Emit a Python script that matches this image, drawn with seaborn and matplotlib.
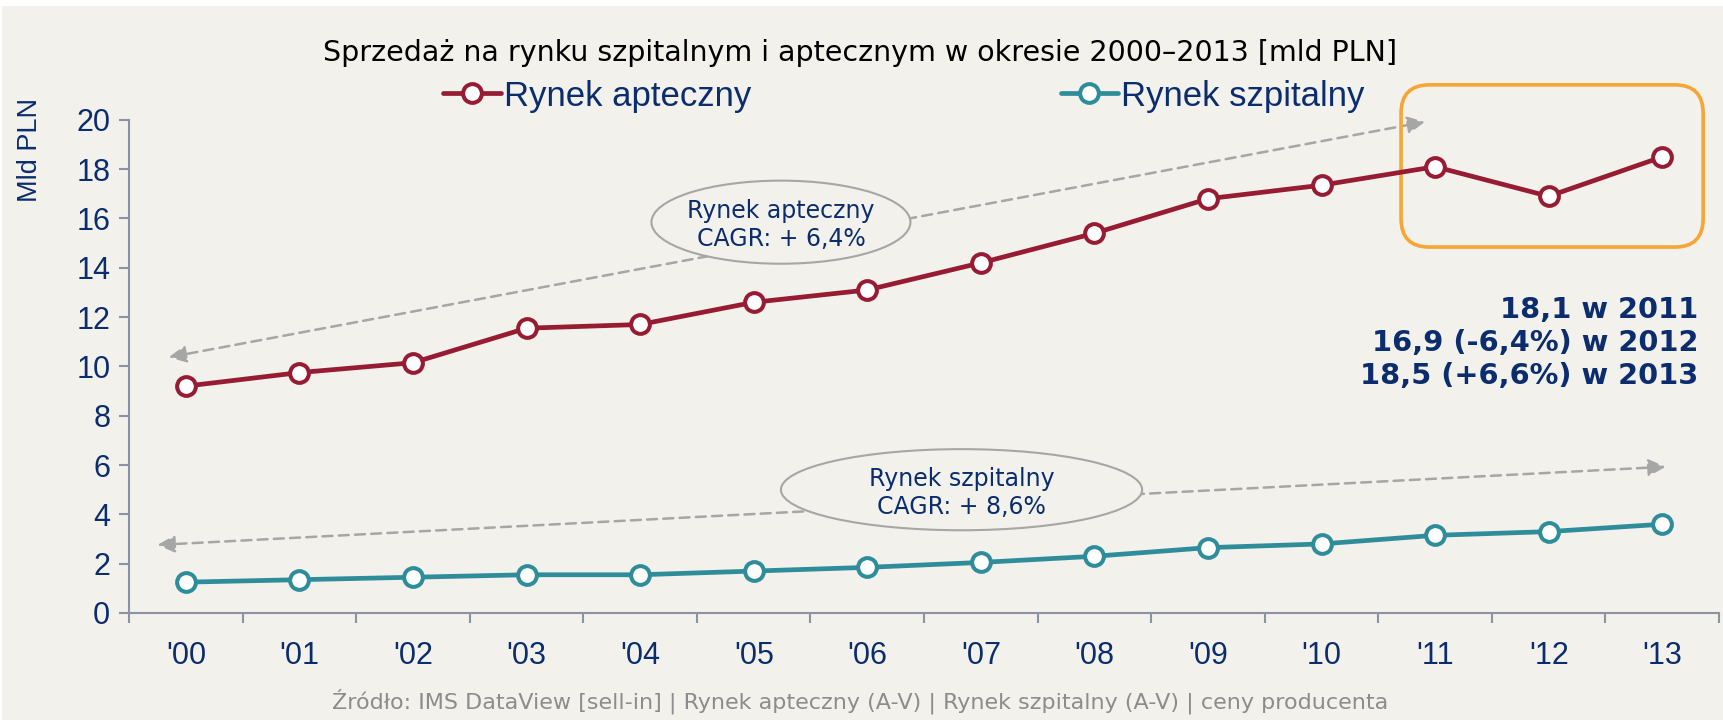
import matplotlib
matplotlib.use("Agg")
import matplotlib.pyplot as plt
import seaborn as sns
import pandas as pd
from matplotlib.patches import Ellipse, FancyBboxPatch, Rectangle

# dane [mld PLN]
lata = ["'00", "'01", "'02", "'03", "'04", "'05", "'06",
        "'07", "'08", "'09", "'10", "'11", "'12", "'13"]
rynek_apteczny = [9.2, 9.75, 10.15, 11.55, 11.7, 12.6, 13.1,
                  14.2, 15.4, 16.8, 17.35, 18.1, 16.9, 18.5]
rynek_szpitalny = [1.25, 1.35, 1.45, 1.55, 1.55, 1.7, 1.85,
                   2.05, 2.3, 2.65, 2.8, 3.15, 3.3, 3.6]
serie = ["Rynek apteczny", "Rynek szpitalny"]
cagr = ["Rynek apteczny\nCAGR: + 6,4%", "Rynek szpitalny\nCAGR: + 8,6%"]
komentarz = "18,1 w 2011\n16,9 (-6,4%) w 2012\n18,5 (+6,6%) w 2013"
tytul = "Sprzedaż na rynku szpitalnym i aptecznym w okresie 2000–2013 [mld PLN]"
zrodlo = ("Źródło: IMS DataView [sell-in] | Rynek apteczny (A-V) | "
          "Rynek szpitalny (A-V) | ceny producenta")

BG = "#F2F1EB"
NAVY = "#0B2D6E"
AXIS = "#8C91A3"
GRAY = "#A6A6A6"
kolory = {"Rynek apteczny": "#971C33", "Rynek szpitalny": "#2F8D9B"}

df = pd.DataFrame({
    "rok": lata * 2,
    "wartosc": rynek_apteczny + rynek_szpitalny,
    "rynek": [serie[0]] * len(lata) + [serie[1]] * len(lata),
})

sns.set_theme(style="ticks")
plt.rcParams["font.family"] = ["Liberation Sans", "DejaVu Sans"]

fig = plt.figure(figsize=(17.23, 7.22), dpi=100, facecolor="white")
fig.add_artist(Rectangle((2 / 1723, 2 / 722), 1, 1 - 8 / 722,
                         transform=fig.transFigure, facecolor=BG,
                         edgecolor="none", zorder=-10))
ax = fig.add_axes([0.0749, 0.151, 0.9228, 0.683])
ax.set_facecolor(BG)

for name in serie:
    col = kolory[name]
    sns.lineplot(data=df[df["rynek"] == name], x="rok", y="wartosc",
                 color=col, lw=3.4, marker="o", ms=13.5, mfc="white",
                 mec=col, mew=2.9, sort=False, label=name, ax=ax, zorder=5)

ax.set_xlim(-0.5, len(lata) - 0.5)
ax.set_ylim(0, 20)
ax.set_yticks(range(0, 21, 2))
ax.set_xticks(range(len(lata)), lata)
ax.set_xticks([i - 0.5 for i in range(len(lata) + 1)], minor=True)
ax.set_xlabel("")
ax.set_ylabel("")
ax.tick_params(axis="x", which="major", length=0, pad=20,
               labelsize=22, labelcolor=NAVY)
ax.tick_params(axis="x", which="minor", length=7, width=1.5, color=AXIS)
ax.tick_params(axis="y", length=7, width=1.5, color=AXIS, pad=6.5,
               labelsize=22, labelcolor=NAVY)
for s in ["top", "right"]:
    ax.spines[s].set_visible(False)
for s in ["left", "bottom"]:
    ax.spines[s].set_color(AXIS)
    ax.spines[s].set_linewidth(1.5)

# legenda u gory
handles, labels = ax.get_legend_handles_labels()
ax.get_legend().remove()
fig.legend(handles, labels, loc="center", bbox_to_anchor=(0.5247, 0.867),
           ncol=2, frameon=False, fontsize=25, labelcolor=NAVY,
           handlelength=1.65, handletextpad=0.1, columnspacing=8.9)

# strzalki trendu i elipsy CAGR
strz = dict(arrowstyle="<|-|>", color=GRAY, lw=1.8, linestyle=(0, (4, 2.5)),
            mutation_scale=26, shrinkA=0, shrinkB=0)
ax.annotate("", xy=(10.91, 19.92), xytext=(-0.15, 10.37),
            arrowprops=strz, annotation_clip=False, zorder=2)
ax.annotate("", xy=(13.03, 5.93), xytext=(-0.25, 2.76),
            arrowprops=strz, annotation_clip=False, zorder=2)

ax.add_patch(Ellipse((5.24, 15.85), 2.28, 3.37, facecolor=BG,
                     edgecolor=GRAY, lw=1.5, zorder=3))
ax.text(5.24, 15.73, cagr[0], ha="center", va="center", fontsize=17,
        family="DejaVu Sans", color=NAVY, linespacing=1.2, zorder=4)
ax.add_patch(Ellipse((6.83, 5.0), 3.18, 3.29, facecolor=BG,
                     edgecolor=GRAY, lw=1.5, zorder=3))
ax.text(6.83, 4.88, cagr[1], ha="center", va="center", fontsize=17,
        family="DejaVu Sans", color=NAVY, linespacing=1.2, zorder=4)

# ramka 2011-2013
ax.add_patch(FancyBboxPatch((10.70, 14.84), 2.66, 6.58,
                            boxstyle="round,pad=0,rounding_size=0.25",
                            mutation_aspect=113.5 / 24.6, facecolor="none",
                            edgecolor="#F7A535", lw=2.6, clip_on=False,
                            zorder=2))
ax.text(13.32, 10.95, komentarz, ha="right", va="center", ma="right",
        fontsize=20.8, fontweight="bold", family="DejaVu Sans", color=NAVY,
        linespacing=1.22)

fig.text(0.499, 1 - 53 / 722, tytul, ha="center", va="center",
         fontsize=20.5, family="DejaVu Sans", color="black")
fig.text(30 / 1723, 1 - 150 / 722, "Mld PLN", rotation=90, ha="center",
         va="center", fontsize=19.5, color=NAVY)
fig.text(860 / 1723, 1 - 701 / 722, zrodlo, ha="center", va="center",
         fontsize=16, family="DejaVu Sans", color="#8C8C8C")

fig.savefig("out.png", dpi=100, facecolor=fig.get_facecolor())
